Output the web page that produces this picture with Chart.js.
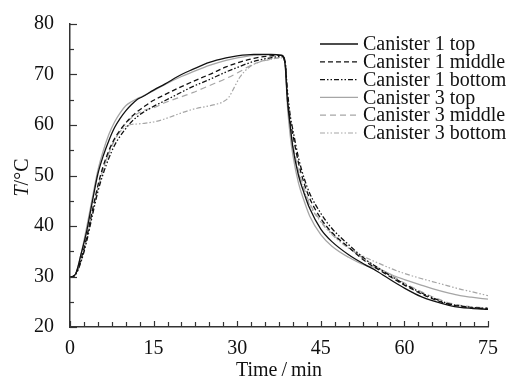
<!DOCTYPE html>
<html>
<head>
<meta charset="utf-8">
<script src="https://cdn.jsdelivr.net/npm/chart.js@4.4.0/dist/chart.umd.min.js"></script>
<style>
html,body{margin:0;padding:0;background:#fff;}
canvas{display:block;}
</style>
</head>
<body>
<canvas id="c" width="507" height="379"></canvas>
<script>
// ---- data ----
const seriesNames = ["Canister 1 top","Canister 1 middle","Canister 1 bottom","Canister 3 top","Canister 3 middle","Canister 3 bottom"];

const tA = [0,1,2,3,4,5,6,7,8,9,10,11,12,13,15,17,20,22,25,28,30,33,36,38,38.6,39,39.5,40,41,42,43,45,47,50,53,55,58,60,63,65,68,70,72,75];

const c1Top    = [29.8,30.5,34.5,39,44.8,50.3,54,57,59.5,61.3,62.8,64,65,65.6,66.9,68.1,70,71,72.4,73.3,73.7,74,74,73.8,72,65,60,55.5,50,46.5,43.5,39.4,36.9,34.3,32.3,31.1,29,27.7,26,25.2,24.3,23.9,23.7,23.5];
const c1Middle = [29.8,30.5,33.5,37.8,43,48,52,55,57.3,59,60.4,61.6,62.6,63.4,64.9,66,67.6,68.6,70,71.5,72.3,73.2,73.7,73.8,72.5,66,61,58,52.5,48.5,45.5,41.5,38.7,35.8,33,31.6,29.6,28.3,26.6,25.6,24.5,24.1,23.8,23.6];
const c1Bottom = [29.8,30.4,33,37,42,46.8,50.5,53.5,56,57.8,59.3,60.6,61.6,62.4,63.7,64.8,66.5,67.6,69,70.5,71.4,72.6,73.3,73.6,72.5,67,62,59,53.5,49.5,46.5,42.5,39.5,36.3,33.4,31.9,29.8,28.5,26.8,25.8,24.6,24.2,23.9,23.7];
const c3Top    = [29.8,30.5,34.5,39.8,45.5,51,55,58.2,60.6,62.4,63.8,64.6,65.2,65.7,66.8,68,69.6,70.5,71.8,72.8,73.3,73.8,73.9,73.8,72,64,58,54,48.5,45,42,38.3,36,33.8,32.2,31.7,30.2,29.4,28.3,27.6,26.7,26.2,25.9,25.5];
const c3Middle = [29.8,30.4,33,37.5,42.5,47.5,51.5,54.5,57,58.8,60.3,61.4,62.2,62.8,63.4,64.4,65.6,66.4,67.8,69.2,70.3,72.1,73,73.4,72,65,59.5,56,51,47.5,44.5,41,38.5,35.7,33.3,31.9,30,28.7,27,26,24.8,24.3,24,23.8];

const tB = [0,1,2,3,4,5,6,7,8,9,10,11,12,13,15,17,20,22,25,26.5,27.5,28.5,29.5,30.5,32,34,36,38,38.6,39,39.5,40,41,42,43,45,47,50,53,55,58,60,63,65,68,70,72,75];
const c3Bottom = [29.8,30.3,33,37.5,42.5,47.3,51.3,54.5,57,58.7,59.7,60.1,60.2,60.3,60.6,61.2,62.4,63.1,63.8,64.2,64.6,65.5,67.5,69.5,71.3,72.5,73,73.3,71.5,65,59,56,50.5,47,44.2,40.8,38.3,35.6,33.8,32.8,31.4,30.6,29.6,29,28.1,27.5,27,26.2];

const xTickValues = [0,15,30,45,60,75];
const yTickValues = [20,30,40,50,60,70,80];

// ---- build datasets ----
function pts(t, v){ return t.map((x,i)=>({x:x, y:v[i]})); }
const black = '#111', gray = '#a6a6a6';
const styles = [
  {c:black, d:[], w:1.3},
  {c:black, d:[5,3], w:1.3},
  {c:black, d:[5,2,1.5,2,1.5,2], w:1.3},
  {c:gray,  d:[], w:1.3},
  {c:gray,  d:[6,4], w:1.2},
  {c:gray,  d:[5,2,1.5,2,1.5,2], w:1.2}
];
const dataSeries = [pts(tA,c1Top), pts(tA,c1Middle), pts(tA,c1Bottom), pts(tA,c3Top), pts(tA,c3Middle), pts(tB,c3Bottom)];
const datasets = seriesNames.map((n,i)=>({
  label:n, data:dataSeries[i], borderColor:styles[i].c, borderDash:styles[i].d,
  borderWidth:styles[i].w, pointRadius:0, showLine:true, fill:false,
  cubicInterpolationMode:'monotone'
}));

const FONT = '"Liberation Serif","Times New Roman",serif';
const FS = 20;

const decor = {
  id:'decor',
  afterDraw(chart){
    const ctx = chart.ctx, xs = chart.scales.x, ys = chart.scales.y;
    const area = chart.chartArea;
    ctx.save();
    ctx.strokeStyle = '#333'; ctx.lineWidth = 1.2; ctx.setLineDash([]);
    // inward x ticks every 2.5
    for (let v=0; v<=75.001; v+=2.5){
      const px = Math.round(xs.getPixelForValue(v))+0.5;
      const len = (Math.abs(v%15)<1e-6) ? 6 : 5;
      ctx.beginPath(); ctx.moveTo(px, area.bottom); ctx.lineTo(px, area.bottom-len); ctx.stroke();
    }
    // inward y ticks every 5
    for (let v=20; v<=80.001; v+=5){
      const py = Math.round(ys.getPixelForValue(v))+0.5;
      const len = (Math.abs(v%10)<1e-6) ? 7 : 4;
      ctx.beginPath(); ctx.moveTo(area.left, py); ctx.lineTo(area.left+len, py); ctx.stroke();
    }
    // axis titles
    ctx.fillStyle = '#111';
    ctx.font = FS+'px '+FONT;
    ctx.textAlign = 'center'; ctx.textBaseline = 'alphabetic';
    ctx.fillText('Time\u2009/\u2009min', (area.left+area.right)/2, 376);
    ctx.save();
    ctx.translate(28, (area.top+area.bottom)/2+2);
    ctx.rotate(-Math.PI/2);
    ctx.font = 'italic '+FS+'px '+FONT;
    const w1 = ctx.measureText('T').width;
    ctx.font = FS+'px '+FONT;
    const w2 = ctx.measureText('/°C').width;
    const start = -(w1+w2)/2;
    ctx.textAlign = 'left';
    ctx.font = 'italic '+FS+'px '+FONT;
    ctx.fillText('T', start, 0);
    ctx.font = FS+'px '+FONT;
    ctx.fillText('/°C', start+w1, 0);
    ctx.restore();
    // legend
    const x0 = 320, x1 = 358, tx = 363, y0 = 44, dy = 17.8;
    chart.data.datasets.forEach((ds,i)=>{
      const y = y0 + i*dy;
      ctx.strokeStyle = ds.borderColor; ctx.lineWidth = ds.borderWidth;
      ctx.setLineDash(ds.borderDash);
      ctx.beginPath(); ctx.moveTo(x0, y); ctx.lineTo(x1, y); ctx.stroke();
      ctx.setLineDash([]);
      ctx.fillStyle = '#111'; ctx.font = FS+'px '+FONT;
      ctx.textAlign = 'left'; ctx.textBaseline = 'middle';
      ctx.fillText(ds.label, tx, y+1);
    });
    ctx.restore();
  }
};

new Chart(document.getElementById('c'), {
  type:'scatter',
  data:{datasets:datasets},
  options:{
    responsive:false, animation:false, events:[],
    layout:{padding:{top:24, right:19, left:0, bottom:0}},
    plugins:{legend:{display:false}, tooltip:{enabled:false}},
    scales:{
      x:{
        type:'linear', min:0, max:75,
        afterBuildTicks(s){ s.ticks = xTickValues.map(v=>({value:v})); },
        afterFit(s){ s.height = 52; },
        grid:{display:false},
        border:{display:true, color:'#333', width:1.5},
        ticks:{color:'#111', font:{family:FONT, size:FS}, padding:2, maxRotation:0, autoSkip:false}
      },
      y:{
        type:'linear', min:20, max:80,
        afterBuildTicks(s){ s.ticks = yTickValues.map(v=>({value:v})); },
        afterFit(s){ s.width = 70; },
        grid:{display:false},
        border:{display:true, color:'#333', width:1.5},
        ticks:{color:'#111', font:{family:FONT, size:FS}, padding:8}
      }
    }
  },
  plugins:[decor]
});
</script>
</body>
</html>
